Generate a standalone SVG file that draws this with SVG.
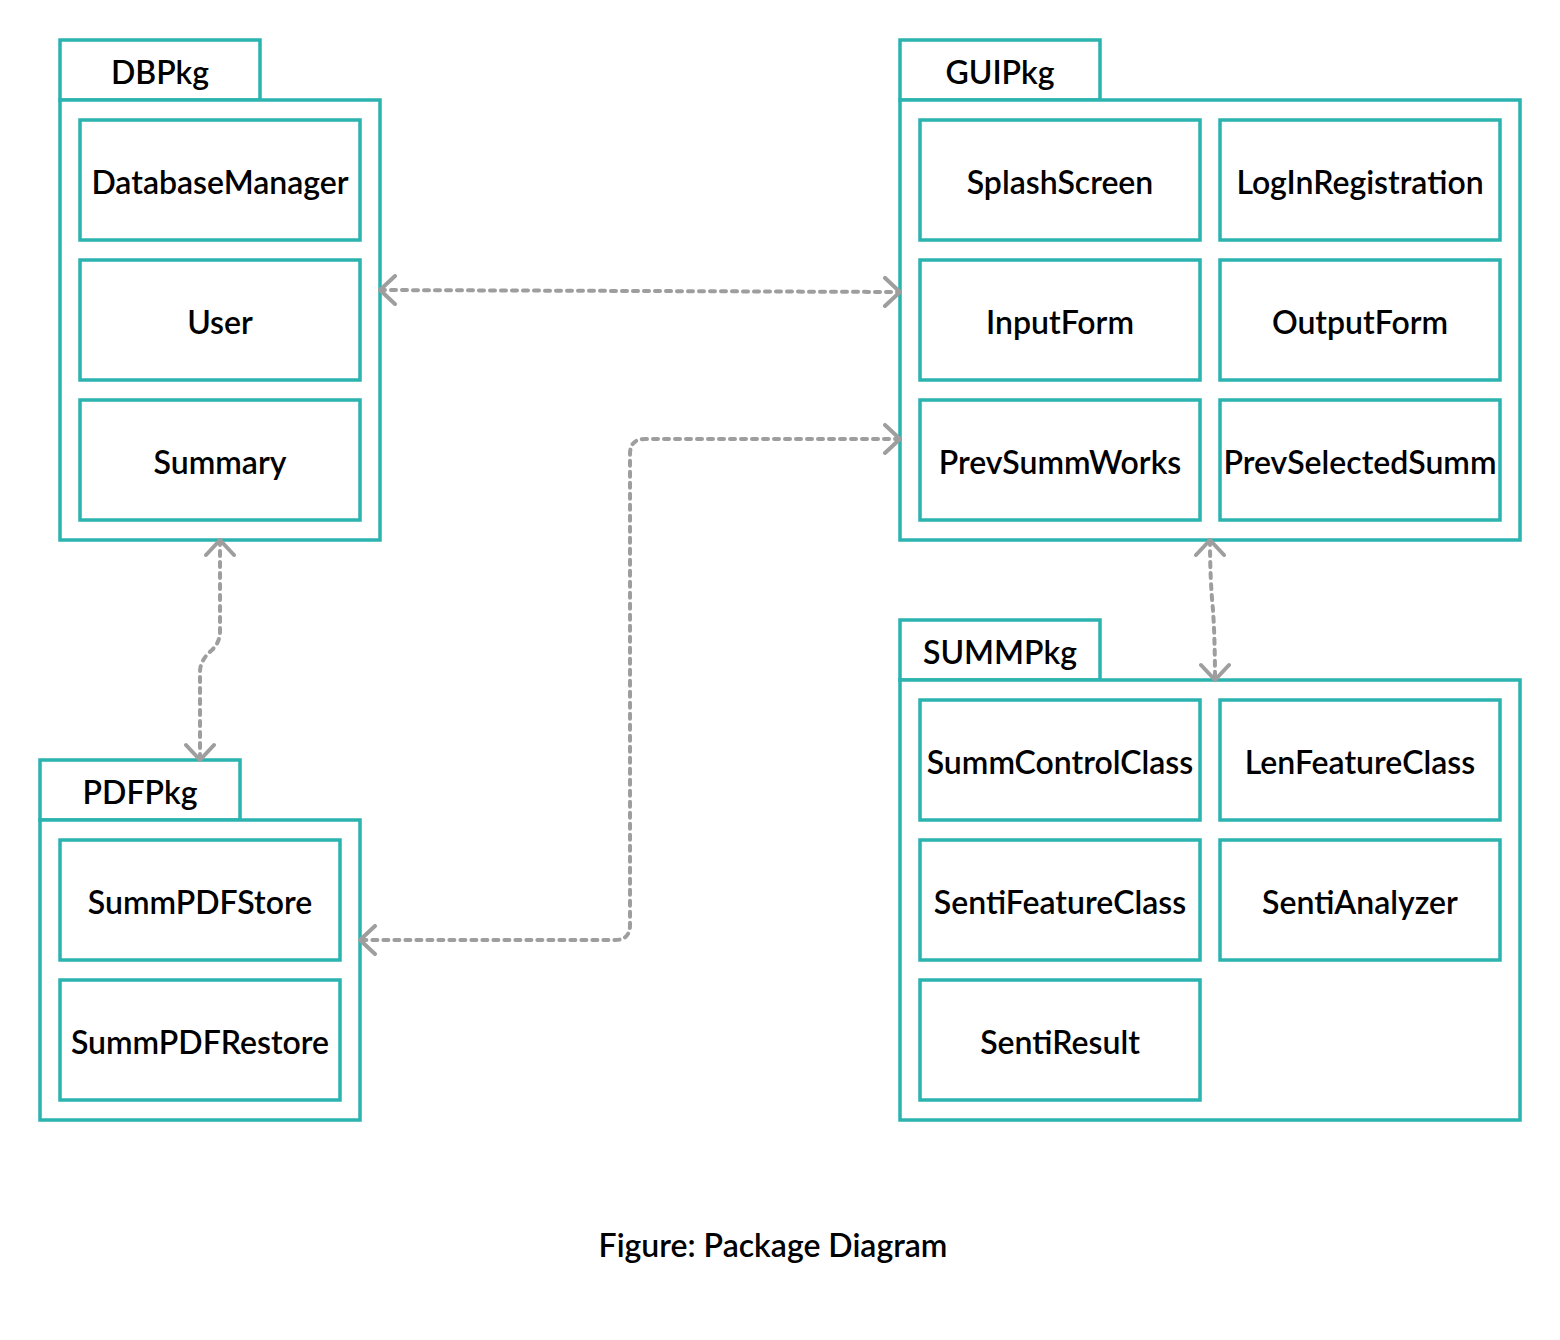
<svg xmlns="http://www.w3.org/2000/svg" width="1560" height="1340" viewBox="0 0 1560 1340">
<style>
.pk{fill:#fff;stroke:#2bb3af;stroke-width:3.5}
.bx{fill:#fff;stroke:#2bb3af;stroke-width:3.5}
.t{font-family:Lato,"Open Sans","Liberation Sans",sans-serif;font-size:32px;font-weight:600;fill:#000;text-anchor:middle;dominant-baseline:central}
.c{fill:none;stroke:#9e9e9e;stroke-width:4;stroke-dasharray:5 6;stroke-linecap:round}
</style>
<defs>
<marker id="ar" viewBox="0 0 20 32" refX="18" refY="16" markerWidth="20" markerHeight="32" markerUnits="userSpaceOnUse" orient="auto-start-reverse">
<path d="M3,2 L18,16 L3,30" fill="none" stroke="#9e9e9e" stroke-width="4" stroke-linecap="round" stroke-linejoin="round"/>
</marker>
</defs>
<rect width="1560" height="1340" fill="#fff"/>
<g id="DBPkg">
<rect class="pk" x="60" y="40" width="200" height="60"/>
<rect class="pk" x="60" y="100" width="320" height="440"/>
<text class="t" x="160" y="71">DBPkg</text>
</g>
<g id="DatabaseManager"><rect class="bx" x="80" y="120" width="280" height="120"/><text class="t" x="220" y="181">DatabaseManager</text></g>
<g id="User"><rect class="bx" x="80" y="260" width="280" height="120"/><text class="t" x="220" y="321">User</text></g>
<g id="Summary"><rect class="bx" x="80" y="400" width="280" height="120"/><text class="t" x="220" y="461">Summary</text></g>

<g id="GUIPkg">
<rect class="pk" x="900" y="40" width="200" height="60"/>
<rect class="pk" x="900" y="100" width="620" height="440"/>
<text class="t" x="1000" y="71">GUIPkg</text>
</g>
<g id="SplashScreen"><rect class="bx" x="920" y="120" width="280" height="120"/><text class="t" x="1060" y="181">SplashScreen</text></g>
<g id="LogInRegistration"><rect class="bx" x="1220" y="120" width="280" height="120"/><text class="t" x="1360" y="181">LogInRegistration</text></g>
<g id="InputForm"><rect class="bx" x="920" y="260" width="280" height="120"/><text class="t" x="1060" y="321">InputForm</text></g>
<g id="OutputForm"><rect class="bx" x="1220" y="260" width="280" height="120"/><text class="t" x="1360" y="321">OutputForm</text></g>
<g id="PrevSummWorks"><rect class="bx" x="920" y="400" width="280" height="120"/><text class="t" x="1060" y="461">PrevSummWorks</text></g>
<g id="PrevSelectedSumm"><rect class="bx" x="1220" y="400" width="280" height="120"/><text class="t" x="1360" y="461">PrevSelectedSumm</text></g>

<g id="SUMMPkg">
<rect class="pk" x="900" y="620" width="200" height="60"/>
<rect class="pk" x="900" y="680" width="620" height="440"/>
<text class="t" x="1000" y="651">SUMMPkg</text>
</g>
<g id="SummControlClass"><rect class="bx" x="920" y="700" width="280" height="120"/><text class="t" x="1060" y="761">SummControlClass</text></g>
<g id="LenFeatureClass"><rect class="bx" x="1220" y="700" width="280" height="120"/><text class="t" x="1360" y="761">LenFeatureClass</text></g>
<g id="SentiFeatureClass"><rect class="bx" x="920" y="840" width="280" height="120"/><text class="t" x="1060" y="901">SentiFeatureClass</text></g>
<g id="SentiAnalyzer"><rect class="bx" x="1220" y="840" width="280" height="120"/><text class="t" x="1360" y="901">SentiAnalyzer</text></g>
<g id="SentiResult"><rect class="bx" x="920" y="980" width="280" height="120"/><text class="t" x="1060" y="1041">SentiResult</text></g>

<g id="PDFPkg">
<rect class="pk" x="40" y="760" width="200" height="60"/>
<rect class="pk" x="40" y="820" width="320" height="300"/>
<text class="t" x="140" y="791">PDFPkg</text>
</g>
<g id="SummPDFStore"><rect class="bx" x="60" y="840" width="280" height="120"/><text class="t" x="200" y="901">SummPDFStore</text></g>
<g id="SummPDFRestore"><rect class="bx" x="60" y="980" width="280" height="120"/><text class="t" x="200" y="1041">SummPDFRestore</text></g>

<g id="connectors">
<path class="c" d="M380,290 L900,292" marker-start="url(#ar)" marker-end="url(#ar)"/>
<path class="c" d="M900,439 L645,439 Q630,439 630,454 L630,925 Q630,940 615,940 L360,940" marker-start="url(#ar)" marker-end="url(#ar)"/>
<path class="c" d="M220,540 L220,632 Q220,642 212,650 Q200,660 200,672 L200,760" marker-start="url(#ar)" marker-end="url(#ar)"/>
<path class="c" d="M1210,540 Q1210,580 1213,610 Q1215,640 1215,680" marker-start="url(#ar)" marker-end="url(#ar)"/>
</g>
<text class="t" x="773" y="1244">Figure: Package Diagram</text>
</svg>
